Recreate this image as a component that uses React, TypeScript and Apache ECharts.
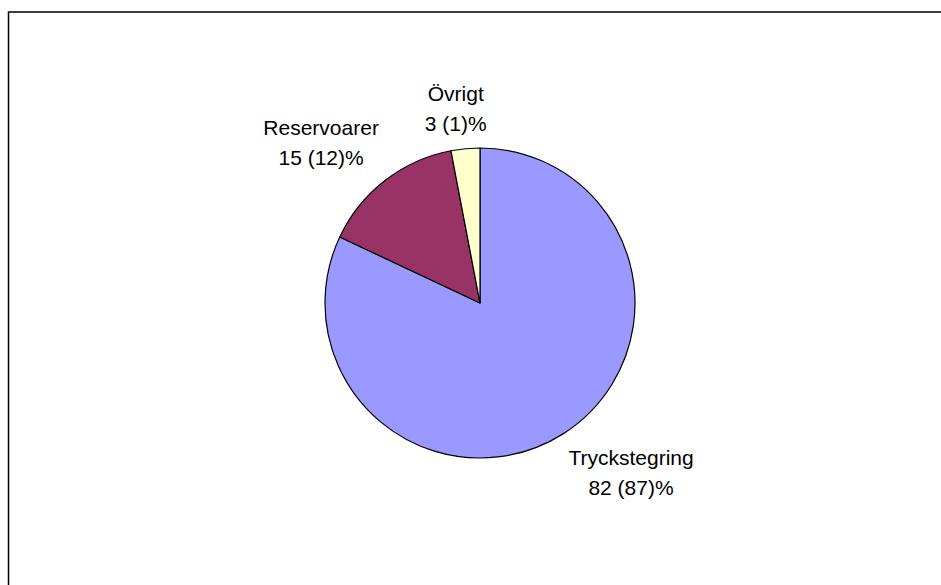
import React, { useEffect, useRef } from "react";
import * as echarts from "echarts";

const categories = ["Tryckstegring", "Reservoarer", "Övrigt"];
const values = [82, 15, 3];
const otherValues = [87, 12, 1];
const colors = ["#9999FF", "#993366", "#FFFFCC"];

const CENTER: [number, number] = [480, 303];
const RADIUS = 155;
const GAP = 10;

export default function App() {
  const ref = useRef<HTMLDivElement>(null);
  useEffect(() => {
    if (!ref.current) return;
    const chart = echarts.init(ref.current, undefined, { renderer: "svg" });
    const total = values.reduce((a, b) => a + b, 0);
    const clamp = (v: number) => Math.max(-1, Math.min(1, v));
    chart.setOption({
      animation: false,
      backgroundColor: "#ffffff",
      graphic: [
        {
          type: "rect",
          shape: { x: 8.5, y: 12, width: 1200, height: 1200 },
          style: { fill: "none", stroke: "#000", lineWidth: 1.5 },
          silent: true,
        },
      ],
      series: [
        {
          type: "pie",
          center: CENTER,
          radius: RADIUS,
          startAngle: 90,
          clockwise: true,
          avoidLabelOverlap: false,
          itemStyle: { borderColor: "#000", borderWidth: 1.2 },
          emphasis: { disabled: true },
          label: {
            show: true,
            position: "outside",
            fontFamily: "'Liberation Sans', Arial, sans-serif",
            fontSize: 21,
            lineHeight: 30,
            color: "#000",
            align: "center",
            formatter: (p: any) =>
              `${p.name}\n${values[p.dataIndex]} (${otherValues[p.dataIndex]})%`,
          },
          labelLine: { show: false },
          labelLayout: (p: any) => {
            const i = p.dataIndex;
            let cum = 0;
            for (let k = 0; k < i; k++) cum += values[k];
            const theta = ((cum + values[i] / 2) / total) * Math.PI * 2;
            const dx = Math.sin(theta);
            const dy = -Math.cos(theta);
            const px = CENTER[0] + dx * (RADIUS + GAP);
            const py = CENTER[1] + dy * (RADIUS + GAP);
            const w = p.labelRect.width;
            const h = p.labelRect.height;
            return {
              x: px + (clamp(3 * dx) * w) / 2,
              y: py + (clamp(3 * dy) * h) / 2,
              align: "center",
              verticalAlign: "middle",
            };
          },
          data: categories.map((name, i) => ({
            name,
            value: values[i],
            itemStyle: { color: colors[i] },
          })),
        },
      ],
    });
    return () => chart.dispose();
  }, []);
  return (
    <div
      ref={ref}
      style={{ position: "absolute", left: 0, top: 0, width: 941, height: 585 }}
    />
  );
}
